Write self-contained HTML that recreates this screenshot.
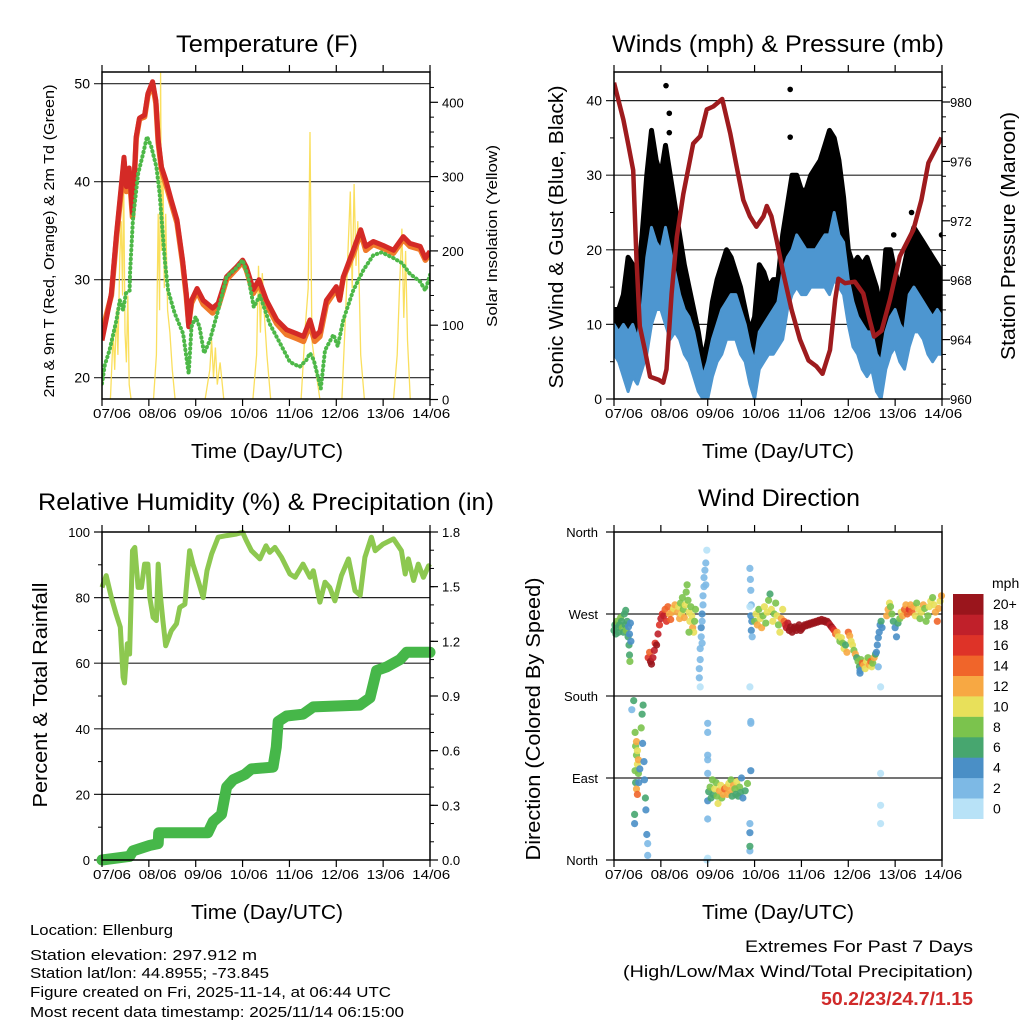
<!DOCTYPE html>
<html><head><meta charset="utf-8"><title>Station Meteogram</title>
<style>
html,body{margin:0;padding:0;background:#fff;}
svg{display:block;font-family:"Liberation Sans",Arial,sans-serif;}
</style></head>
<body>
<svg id="chart" width="1024" height="1024" viewBox="0 0 1024 1024" xmlns="http://www.w3.org/2000/svg"></svg>
<script>
// ---------- DATA ----------
const tempT   = [0,0.06,0.2,0.31,0.41,0.47,0.52,0.58,0.65,0.73,0.8,0.91,0.98,1.08,1.15,1.2,1.27,1.36,1.48,1.6,1.72,1.8,1.85,1.91,2.03,2.16,2.36,2.48,2.66,2.87,3.0,3.08,3.23,3.35,3.51,3.73,3.94,4.15,4.3,4.44,4.54,4.65,4.79,5.0,5.07,5.15,5.36,5.52,5.63,5.79,6.0,6.22,6.43,6.57,6.79,6.9,7.0];
const temp2m  = [23.8,25.2,28.6,34.7,39.5,42.5,39.5,41.4,36.8,44.6,46.5,46.8,49,50.2,48.3,44.3,41.5,40.2,38.1,36.1,32,28.6,25.2,27.9,29.1,27.9,27.1,27.6,30.3,31.3,32,31.3,29,30,27.9,25.9,24.9,24.5,24.2,25.9,24.2,24.7,27.9,29.3,27.9,30.3,33,35.1,33.4,33.9,33.5,33,34.4,33.7,33.4,32.2,32.9];
const temp9m  = [25.5,25.8,28.4,34.3,39.0,42.0,39.0,41.0,36.4,44.4,46.4,46.6,48.8,50.0,48.0,44.0,41.2,39.8,37.8,35.8,31.7,28.3,25.5,27.6,28.8,27.5,26.6,27.2,30.0,31.1,31.8,31.0,28.6,29.6,27.5,25.5,24.4,24.0,23.7,25.4,23.7,24.2,27.5,29.0,28.0,30.2,32.6,34.8,33.0,33.6,33.2,32.7,34.1,33.4,33.1,32.0,32.6];
const tdT     = [0,0.06,0.16,0.31,0.38,0.45,0.51,0.59,0.6,0.66,0.77,0.88,0.96,1.05,1.16,1.23,1.34,1.41,1.55,1.73,1.85,1.91,2.0,2.08,2.18,2.3,2.48,2.66,2.87,3.0,3.12,3.24,3.37,3.58,3.8,4.01,4.22,4.36,4.44,4.52,4.67,4.76,4.94,5.03,5.15,5.36,5.58,5.79,5.97,6.22,6.4,6.57,6.79,6.9,7.0];
const td2m    = [19.4,21.3,22.8,25.9,27.9,26.9,28.6,28.9,30.8,36.1,40.8,42.9,44.6,43.6,41.5,38.8,32,28.9,26.6,24.5,20.4,25.2,26.2,25.2,22.5,23.8,26.9,30.3,31.2,32,30.3,27.2,28.4,25.5,23.5,21.6,21.1,21.8,22.5,21.8,18.9,22.8,24.4,23.2,25.9,28.9,31,32.5,32.8,32.2,31.7,30.6,29.8,28.9,30.5];
const solT     = [0,0.18,0.24,0.27,0.31,0.34,0.38,0.41,0.44,0.46,0.49,0.52,0.55,0.58,0.62,1.1,1.16,1.2,1.23,1.25,1.27,1.3,1.33,1.36,1.4,1.45,1.5,1.56,2.2,2.3,2.34,2.38,2.42,2.46,2.52,2.6,3.22,3.3,3.34,3.38,3.42,3.46,3.52,3.6,4.25,4.34,4.4,4.44,4.48,4.54,4.65,5.12,5.2,5.25,5.3,5.34,5.38,5.42,5.46,5.52,5.6,6.22,6.3,6.35,6.4,6.44,6.48,6.52,6.58,7.0];
const solW     = [0,0,90,40,120,60,190,240,140,310,90,50,140,20,0,0,60,250,120,440,200,320,150,250,120,90,40,0,0,40,80,30,70,20,50,0,0,60,180,90,170,120,60,0,0,100,150,360,80,50,0,0,120,200,280,150,290,180,240,60,0,0,60,150,230,110,200,80,0,0];

const windT   = [0,0.1,0.2,0.3,0.4,0.5,0.6,0.7,0.8,0.9,1.0,1.1,1.2,1.3,1.4,1.5,1.6,1.7,1.8,1.9,2.0,2.1,2.2,2.3,2.4,2.5,2.6,2.7,2.8,2.9,3.0,3.1,3.2,3.3,3.4,3.5,3.6,3.7,3.8,3.9,4.0,4.1,4.2,4.3,4.4,4.5,4.6,4.7,4.8,4.9,5.0,5.1,5.2,5.3,5.4,5.5,5.6,5.7,5.8,5.9,6.0,6.1,6.2,6.3,6.4,6.5,6.6,6.7,6.8,6.9,7.0];
const windLo  = [6,5,3,1,3,2,4,6,10,12,12,10,8,9,8,6,5,3,1,0,0,3,5,6,8,8,8,6,5,2,0,4,5,6,6,7,8,12,14,15,14,14,15,15,15,15,14,16,15,14,10,7,6,4,3,4,1,0,4,6,7,5,4,7,9,9,8,6,5,6,6];
const windHi  = [10,9,10,9,10,8,12,19,23,21,20,23,20,17,14,12,11,9,6,3,5,8,10,12,13,14,14,12,10,7,5,9,10,11,12,13,17,19,20,22,21,20,20,20,21,22,22,25,22,21,16,13,11,10,9,9,6,5,9,11,12,10,9,14,15,14,13,12,11,12,11];
const gustHi  = [12,12,14,19,18,15,22,30,36,32,30,34,30,26,22,18,15,12,9,5,8,13,16,18,20,19,17,15,12,9,11,18,17,15,16,16,22,26,30,30,28,28,30,31,32,34,36,35,32,27,20,18,19,18,19,17,15,12,20,20,17,15,18,21,23,22,21,20,19,18,17];
const gustOutT = [1.11,1.18,1.18,3.76,3.76,6.35,6.99,5.97];
const gustOutV = [42,38.3,35.7,41.5,35.1,25,22,22];
const presT   = [0,0.2,0.3,0.41,0.48,0.55,0.66,0.77,0.95,1.05,1.12,1.23,1.34,1.48,1.69,1.84,1.98,2.12,2.31,2.48,2.62,2.76,2.9,3.04,3.19,3.26,3.36,3.47,3.61,3.79,3.97,4.15,4.32,4.45,4.61,4.72,4.79,4.93,5.14,5.32,5.46,5.55,5.71,5.89,6.1,6.39,6.56,6.71,6.99];
const presMb  = [981.3,978.8,977.2,975.4,969.4,964.9,963.3,961.5,961.3,961.1,962,967.1,970.9,973.8,977.2,977.7,979.5,979.7,980.2,977.9,975.6,973.4,972.3,971.6,972.3,973,972.3,970.7,968.5,966,964,962.6,962.2,961.7,963.3,966.7,968.1,967.8,967.9,967.1,965.3,964.2,964.6,966.7,969.6,971.4,973.4,975.9,977.6];

const rhT   = [0,0.09,0.2,0.3,0.39,0.45,0.48,0.54,0.59,0.65,0.7,0.77,0.84,0.91,0.98,1.02,1.09,1.16,1.2,1.25,1.3,1.36,1.48,1.59,1.66,1.77,1.87,1.94,2.03,2.16,2.24,2.34,2.48,2.66,2.87,3.0,3.08,3.19,3.37,3.5,3.58,3.69,3.83,4.01,4.12,4.29,4.44,4.51,4.65,4.76,4.86,4.97,5.11,5.26,5.4,5.51,5.61,5.75,5.83,6.0,6.22,6.39,6.47,6.54,6.65,6.75,6.86,6.97,7.0];
const rhPct = [83.1,86.7,80,75,71,55.7,54,65.9,62.8,94.3,95.3,83.1,83.1,90.2,90.2,80,74,73,90.2,80,73,65.3,69.9,72,77,78,94.3,90.2,86.2,80,88.2,93.3,98.4,98.9,99.4,99.9,97.4,94.3,91.8,95.8,93.8,95.3,92.3,87.2,86.2,90.2,86.2,88.2,78.6,84.7,83.1,79,86.7,91.8,82.1,80.7,92.3,98.4,94.3,96.3,97.9,94.3,87.2,91.8,85.2,90.2,86.2,89.7,89.2];
const prT   = [0,0.59,0.66,1.02,1.2,1.21,2.26,2.37,2.55,2.66,2.8,3.05,3.19,3.65,3.72,3.76,3.94,4.29,4.51,5.5,5.72,5.86,6.08,6.36,6.5,7.0];
const prIn  = [0,0.02,0.05,0.08,0.09,0.15,0.15,0.21,0.25,0.40,0.44,0.47,0.50,0.51,0.62,0.76,0.79,0.80,0.84,0.85,0.89,1.04,1.06,1.10,1.14,1.14];

const wdT = [0,0.02,0.04,0.06,0.08,0.1,0.12,0.14,0.16,0.18,0.2,0.22,0.24,0.25,0.26,0.28,0.3,0.31,0.32,0.33,0.34,0.33,0.35,0.36,
 0.38,0.42,0.45,0.46,0.48,0.48,0.5,0.5,0.52,0.52,0.45,0.46,0.48,0.5,0.53,0.55,0.58,0.6,0.62,0.61,0.64,0.65,0.67,0.68,0.7,0.72,0.44,0.44,0.72,
 0.73,0.76,0.78,0.8,0.83,0.86,0.88,0.91,0.94,0.97,1.0,1.03,1.06,1.09,1.12,1.15,1.18,1.21,1.24,1.27,1.3,
 1.36,1.38,1.4,1.42,1.44,1.46,1.48,1.5,1.52,1.54,1.56,1.58,1.6,1.62,1.64,1.66,1.68,1.7,1.72,1.74,1.6,
 1.82,1.82,1.84,1.84,1.86,1.86,1.88,1.88,1.9,1.9,1.92,1.92,1.94,1.96,1.98,1.96,1.88,1.84,
 2.0,2.02,2.05,2.07,2.1,2.12,2.15,2.18,2.2,2.22,2.25,2.28,2.3,2.33,2.36,2.4,2.42,2.45,2.48,2.5,2.52,2.55,2.58,2.6,2.62,2.65,2.68,2.7,2.72,2.75,2.8,2.85,
 2.0,2.0,2.0,2.0,2.0,2.0,2.0,1.98,
 2.9,2.91,2.92,2.93,2.92,2.94,2.93,2.95,2.9,2.9,2.92,2.92,2.92,2.9,2.9,2.9,2.9,
 3.0,3.03,3.06,3.09,3.12,3.15,3.18,3.21,3.24,3.27,3.3,3.33,3.36,3.39,3.42,3.45,3.48,3.51,3.54,3.57,3.6,3.63,3.66,
 3.68,3.71,3.74,3.77,3.8,3.83,3.86,3.89,3.92,3.95,3.98,4.01,4.04,4.07,4.1,4.13,4.16,4.19,4.22,4.25,4.28,4.31,4.34,4.37,4.4,4.43,4.46,4.49,4.52,4.55,4.58,4.61,4.64,4.67,4.7,4.73,4.76,4.79,4.82,4.85,4.88,4.91,4.94,4.97,
 5.0,5.03,5.06,5.09,5.12,5.15,5.18,5.21,5.24,5.25,5.25,5.27,5.3,5.33,5.36,5.39,5.42,5.45,5.48,5.5,5.52,5.55,5.58,
 5.6,5.62,5.64,5.66,5.68,5.7,5.72,5.64,5.69,5.69,5.69,5.69,
 5.82,5.85,5.88,5.9,5.93,5.96,6.0,6.03,6.06,6.1,6.13,6.16,6.2,6.23,6.26,6.3,6.33,6.36,6.4,6.43,6.46,6.5,6.53,6.56,6.6,6.63,6.66,6.7,6.73,6.76,6.8,6.83,6.86,6.9,6.93,6.96,6.99];
const wdDir = [252,258,248,262,255,250,258,266,262,255,250,270,258,274,252,262,245,256,236,225,218,248,260,240,
 165,175,140,125,130,115,120,105,110,95,98,85,78,72,85,100,145,160,170,128,108,88,68,55,28,18,50,40,5,
 222,228,218,215,222,230,238,236,248,258,265,270,268,275,262,278,270,264,272,276,280,
 272,278,265,282,270,288,275,266,280,294,302,285,272,262,278,268,255,250,262,275,250,
 200,210,220,232,245,255,262,270,280,290,300,310,318,326,340,302,238,190,
 65,75,80,68,88,72,78,85,70,62,76,82,68,72,78,80,72,84,76,88,70,82,78,72,86,70,80,74,90,68,76,84,
 150,140,115,110,95,45,2,0,
 320,308,296,280,268,262,252,245,278,190,152,150,98,40,30,10,15,
 262,270,258,275,265,255,268,278,260,272,285,292,275,262,270,282,268,258,250,265,275,262,258,
 255,260,252,256,250,254,256,252,255,258,252,254,256,258,257,259,258,260,259,261,260,262,261,263,262,264,262,263,261,262,260,258,256,254,252,248,250,245,240,244,238,232,236,228,
 250,246,240,236,230,226,222,218,212,208,205,220,216,214,210,218,222,214,218,212,216,222,226,
 228,236,244,250,258,262,255,212,190,95,60,40,
 268,275,282,278,270,262,255,245,260,265,272,268,275,280,270,275,280,272,278,268,282,275,265,272,280,276,262,268,278,284,288,280,272,262,276,284,290];
const wdSpd = [6,6,6,8,6,6,6,8,6,8,6,6,6,6,8,6,6,4,6,6,8,4,4,4,
 2,6,8,8,12,8,10,10,12,8,8,6,12,14,4,4,8,6,6,4,4,4,6,4,4,2,6,4,2,
 16,14,20,20,18,18,16,20,18,16,18,16,18,14,16,14,12,14,12,10,12,
 12,10,12,8,10,8,8,12,10,8,8,8,10,10,8,10,12,10,8,8,8,
 2,2,2,2,2,4,2,4,2,2,2,2,2,2,0,2,2,0,
 4,6,8,6,8,6,10,8,8,10,12,10,8,12,14,12,12,10,12,8,6,12,8,6,10,6,8,6,4,4,6,8,
 2,2,2,2,2,2,0,0,
 2,2,2,2,4,4,4,2,0,0,2,2,4,2,4,2,6,
 8,10,12,8,10,12,8,10,8,10,8,6,10,10,8,8,10,8,10,12,10,14,16,
 18,18,20,20,20,20,20,20,20,20, 20,20,20,20,20,20,20,20,20,20, 20,20,20,20,20,20,20,20,20,20, 20,18,20,18,16,14,12,10,8,10, 8,10,6,12,
 14,12,10,10,8,12,6,8,6,4,4,8,14,12,10,10,8,12,14,10,8,12,6,
 4,4,4,4,4,6,4,2,0,0,0,0,
 12,12,10,8,8,6,4,4,6,8,10,12,14,12,14,16,12,14,12,10,8,10,8,10,12,8,8,8,10,10,8,10,12,14,12,10,12];

const dayLabels = ["07/06","08/06","09/06","10/06","11/06","12/06","13/06","14/06"];
const tempTicks = [20,30,40,50];
const solTicks  = [0,100,200,300,400];
const windTicks = [0,10,20,30,40];
const presTicks = [960,964,968,972,976,980];
const rhTicks   = [0,20,40,60,80,100];
const prTicks   = [0.0,0.3,0.6,0.9,1.2,1.5,1.8];
const dirTicks  = [0,90,180,270,360];
const dirNames  = ["North","East","South","West","North"];
const spdBins   = ["0","2","4","6","8","10","12","14","16","18","20+"];
const spdColors = ["#b8e2f7","#7db9e5","#4a8fc6","#47a66f","#7bc34d","#e8e05a","#f7a843","#f0652a","#de3328","#c0202a","#9a151c"];

// ---------- DRAWING ----------
const NS = "http://www.w3.org/2000/svg";
const svg = document.getElementById("chart");
function mk(tag, parent){ const e = document.createElementNS(NS, tag); (parent||svg).appendChild(e); return e; }
function txt(parent, s, x, y, size, anchor, len, rot, color, weight){
  const t = mk("text", parent);
  t.setAttribute("x", x); t.setAttribute("y", y);
  t.setAttribute("font-size", size);
  t.setAttribute("text-anchor", anchor || "middle");
  t.setAttribute("fill", color || "#000");
  if (weight) t.setAttribute("font-weight", weight);
  if (len){ t.setAttribute("textLength", len); t.setAttribute("lengthAdjust", "spacingAndGlyphs"); }
  if (rot) t.setAttribute("transform", "rotate(" + rot + " " + x + " " + y + ")");
  t.textContent = s;
  return t;
}
function line(parent, x1, y1, x2, y2, w, c){
  const l = mk("line", parent);
  l.setAttribute("x1", x1); l.setAttribute("y1", y1); l.setAttribute("x2", x2); l.setAttribute("y2", y2);
  l.setAttribute("stroke", c || "#000"); l.setAttribute("stroke-width", w || 1);
  return l;
}
function pathFrom(xs, ys){ let d = ""; for (let i = 0; i < xs.length; i++) d += (i ? "L" : "M") + xs[i].toFixed(1) + "," + ys[i].toFixed(1); return d; }

function makeXAxis(g, L, R, T, B){
  const step = (R - L) / 7;
  for (let i = 0; i <= 7; i++){
    const x = L + i * step;
    line(g, x, B, x, B + 7, 1.2);
    line(g, x, T, x, T - 7, 1.2);
    const lab = txt(g, dayLabels[i], L + 10 + i * 45.6, B + 19, 13, "middle", 38);
    
    
  }
}
function frame(g, L, R, T, B){
  const r = mk("rect", g);
  r.setAttribute("x", L); r.setAttribute("y", T); r.setAttribute("width", R - L); r.setAttribute("height", B - T);
  r.setAttribute("fill", "none"); r.setAttribute("stroke", "#000"); r.setAttribute("stroke-width", 1.5);
  
  
}

// ===== Panel 1 =====
(function(){
  const L = 102, R = 430, T = 72, B = 399;
  const g = mk("g");  
  const xs = t => L + t * (R - L) / 7;
  const yT = v => 83.7 + (50 - v) * 9.8;
  const yS = w => 399.5 - w * 0.743;
  const clip = mk("clipPath", g); clip.setAttribute("id", "c1");
  const cr = mk("rect", clip); cr.setAttribute("x", L); cr.setAttribute("y", T); cr.setAttribute("width", R - L); cr.setAttribute("height", B - T);
  tempTicks.forEach(v => { const gl = line(g, L - 8, yT(v), R, yT(v), 1.2, "#222");  
    const lb = txt(g, String(v), L - 12, yT(v) + 5, 14, "end");   });
  solTicks.forEach(v => { line(g, R, yS(v), R + 8, yS(v), 1.2);
    const lb = txt(g, String(v), R + 12, yS(v) + 5, 13, "start");   });
  for (let v = 20; v < 440; v += 20) if (v % 100) line(g, R, yS(v), R + 4, yS(v), 1);
  const pg = mk("g", g); pg.setAttribute("clip-path", "url(#c1)");
  const sol = mk("path", pg); sol.setAttribute("d", pathFrom(solT.map(xs), solW.map(yS)));
  sol.setAttribute("fill", "none"); sol.setAttribute("stroke", "#f9dc4c"); sol.setAttribute("stroke-width", 1.3); sol.setAttribute("opacity", 0.9);
   
  const o = mk("path", pg); o.setAttribute("d", pathFrom(tempT.map(xs), temp9m.map(yT)));
  o.setAttribute("fill", "none"); o.setAttribute("stroke", "#f07a2a"); o.setAttribute("stroke-width", 5.5); o.setAttribute("stroke-linejoin", "round");
   
  const rl = mk("path", pg); rl.setAttribute("d", pathFrom(tempT.map(xs), temp2m.map(yT)));
  rl.setAttribute("fill", "none"); rl.setAttribute("stroke", "#d42a26"); rl.setAttribute("stroke-width", 5); rl.setAttribute("stroke-linejoin", "round");
   
  const gr = mk("path", pg); gr.setAttribute("d", pathFrom(tdT.map(xs), td2m.map(yT)));
  gr.setAttribute("fill", "none"); gr.setAttribute("stroke", "#4db848"); gr.setAttribute("stroke-width", 4); gr.setAttribute("stroke-linecap", "round"); gr.setAttribute("stroke-dasharray", "0.5 4");
   
  frame(g, L, R, T, B); makeXAxis(g, L, R, T, B);
  let t;
  t = txt(g, "Temperature (F)", 267, 52, 24, "middle", 182);  
  t = txt(g, "Time (Day/UTC)", 267, 458, 20, "middle", 152);  
  t = txt(g, "2m & 9m T (Red, Orange) & 2m Td (Green)", 54, 241, 15, "middle", 313, -90);  
  t = txt(g, "Solar Insolation (Yellow)", 497, 236, 15, "middle", 182, -90);  
})();

// ===== Panel 2 =====
(function(){
  const L = 614, R = 942, T = 72, B = 399;
  const g = mk("g");  
  const xs = t => L + t * (R - L) / 7;
  const yW = v => 399 - v * 7.46;
  const yP = p => 399 - (p - 960) * 14.85;
  const clip = mk("clipPath", g); clip.setAttribute("id", "c2");
  const cr = mk("rect", clip); cr.setAttribute("x", L); cr.setAttribute("y", T); cr.setAttribute("width", R - L); cr.setAttribute("height", B - T);
  windTicks.forEach(v => { if (v > 0){ const gl = line(g, L - 8, yW(v), R, yW(v), 1.2, "#222");   } else line(g, L - 8, yW(v), L, yW(v), 1.2);
    const lb = txt(g, String(v), L - 12, yW(v) + 5, 14, "end");   });
  for (let v = 5; v < 44; v += 10) line(g, L - 4, yW(v), L, yW(v), 1);
  presTicks.forEach(v => { line(g, R, yP(v), R + 8, yP(v), 1.2);
    const lb = txt(g, String(v), R + 8, yP(v) + 5, 13, "start");   });
  for (let v = 961; v < 982; v++) if ((v - 960) % 4) line(g, R, yP(v), R + 4, yP(v), 1);
  const pg = mk("g", g); pg.setAttribute("clip-path", "url(#c2)");
  const xsw = windT.map(xs);
  const gx = xsw.concat(xsw.slice().reverse());
  const gy = gustHi.map(yW).concat(windHi.map(v => yW(Math.max(0, v - 2))).reverse());
  const gust = mk("path", pg); gust.setAttribute("d", pathFrom(gx, gy) + "Z");
  gust.setAttribute("fill", "#000"); gust.setAttribute("stroke", "#000"); gust.setAttribute("stroke-width", 5); gust.setAttribute("stroke-linejoin", "round");
   
  gustOutT.forEach((t, i) => { const c = mk("circle", pg); c.setAttribute("cx", xs(t)); c.setAttribute("cy", yW(gustOutV[i])); c.setAttribute("r", 2.8); c.setAttribute("fill", "#000");
      });
  const wy = windHi.map(yW).concat(windLo.map(yW).reverse());
  const wind = mk("path", pg); wind.setAttribute("d", pathFrom(gx, wy) + "Z");
  wind.setAttribute("fill", "#4d96d0"); wind.setAttribute("stroke", "#4d96d0"); wind.setAttribute("stroke-width", 3); wind.setAttribute("stroke-linejoin", "round");
   
  const pr = mk("path", pg); pr.setAttribute("d", pathFrom(presT.map(xs), presMb.map(yP)));
  pr.setAttribute("fill", "none"); pr.setAttribute("stroke", "#9e1b1e"); pr.setAttribute("stroke-width", 4.5); pr.setAttribute("stroke-linejoin", "round");
   
  frame(g, L, R, T, B); makeXAxis(g, L, R, T, B);
  let t;
  t = txt(g, "Winds (mph) & Pressure (mb)", 778, 52, 24, "middle", 332);  
  t = txt(g, "Time (Day/UTC)", 778, 458, 20, "middle", 152);  
  t = txt(g, "Sonic Wind & Gust (Blue, Black)", 563, 237, 20, "middle", 303, -90);  
  t = txt(g, "Station Pressure (Maroon)", 1015, 236, 20, "middle", 248, -90);  
})();

// ===== Panel 3 =====
(function(){
  const L = 102, R = 430, T = 532, B = 860;
  const g = mk("g");  
  const xs = t => L + t * (R - L) / 7;
  const yR = v => 860 - v * 3.28;
  const yPr = p => 860 - p / 1.8 * 328;
  rhTicks.forEach(v => { if (v > 0 && v < 100){ const gl = line(g, L - 8, yR(v), R, yR(v), 1.2, "#222");   } else line(g, L - 8, yR(v), L, yR(v), 1.2);
    const lb = txt(g, String(v), L - 12, yR(v) + 5, 13, "end");   });
  for (let v = 10; v < 100; v += 20) line(g, L - 4, yR(v), L, yR(v), 1);
  prTicks.forEach(v => { line(g, R, yPr(v), R + 8, yPr(v), 1.2);
    const lb = txt(g, v.toFixed(1), R + 12, yPr(v) + 5, 13, "start");   });
  for (let v = 0.1; v < 1.8; v += 0.1) line(g, R, yPr(v), R + 4, yPr(v), 1);
  const rh = mk("path", g); rh.setAttribute("d", pathFrom(rhT.map(xs), rhPct.map(yR)));
  rh.setAttribute("fill", "none"); rh.setAttribute("stroke", "#8dc850"); rh.setAttribute("stroke-width", 5); rh.setAttribute("stroke-linejoin", "round");
   
  const pr = mk("path", g); pr.setAttribute("d", pathFrom(prT.map(xs), prIn.map(yPr)));
  pr.setAttribute("fill", "none"); pr.setAttribute("stroke", "#46b749"); pr.setAttribute("stroke-width", 11); pr.setAttribute("stroke-linejoin", "round"); pr.setAttribute("stroke-linecap", "round");
   
  frame(g, L, R, T, B); makeXAxis(g, L, R, T, B);
  let t;
  t = txt(g, "Relative Humidity (%) & Precipitation (in)", 266, 510, 24, "middle", 456);  
  t = txt(g, "Time (Day/UTC)", 267, 919, 20, "middle", 152);  
  t = txt(g, "Percent & Total Rainfall", 47, 695, 20, "middle", 225, -90);  
})();

// ===== Panel 4 =====
(function(){
  const L = 614, R = 942, T = 532, B = 860;
  const g = mk("g");  
  const xs = t => L + t * (R - L) / 7;
  const yD = d => 860 - d / 360 * 328;
  dirTicks.forEach((v, i) => { if (v > 0 && v < 360){ const gl = line(g, L - 8, yD(v), R, yD(v), 1.2, "#222");   } else line(g, L - 8, yD(v), L, yD(v), 1.2);
    const lb = txt(g, dirNames[i], L - 16, yD(v) + 5, 13, "end");   });
  const pg = mk("g", g);
  const n = Math.min(wdT.length, wdDir.length, wdSpd.length);
  for (let i = 0; i < n; i++){
    const bin = Math.min(10, Math.round(wdSpd[i] / 2));
    const c = mk("circle", pg);
    c.setAttribute("cx", xs(wdT[i]).toFixed(1)); c.setAttribute("cy", yD(wdDir[i]).toFixed(1)); c.setAttribute("r", 3.6);
    c.setAttribute("fill", spdColors[bin]); c.setAttribute("opacity", 0.9);
    
    
  }
  frame(g, L, R, T, B); makeXAxis(g, L, R, T, B);
  const cb = mk("g", g);  
  const h = (818.7 - 594) / 11;
  spdColors.forEach((col, i) => {
    const y = 818.7 - (i + 1) * h;
    const r = mk("rect", cb); r.setAttribute("x", 953); r.setAttribute("y", y.toFixed(1)); r.setAttribute("width", 30.5); r.setAttribute("height", (h + 0.3).toFixed(1)); r.setAttribute("fill", col);
     
    const lb = txt(cb, spdBins[i], 993, y + h / 2 + 5, 14, "start");  
  });
  let t;
  t = txt(cb, "mph", 992, 588, 14, "start");  
  t = txt(g, "Wind Direction", 779, 506, 24, "middle", 162);  
  t = txt(g, "Time (Day/UTC)", 778, 919, 20, "middle", 152);  
  t = txt(g, "Direction (Colored By Speed)", 540, 719, 20, "middle", 283, -90);  
})();

// ===== Footer =====
(function(){
  const g = mk("g");  
  const lines = [["Location: Ellenburg",935,143],["Station elevation: 297.912 m",960,227],["Station lat/lon: 44.8955; -73.845",978,239],["Figure created on Fri, 2025-11-14, at 06:44 UTC",997,361],["Most recent data timestamp: 2025/11/14 06:15:00",1017,374]];
  lines.forEach(l => { const t = txt(g, l[0], 30, l[1], 15, "start", l[2]);   });
  const e = mk("g");  
  let t;
  t = txt(e, "Extremes For Past 7 Days", 973, 952, 17, "end", 228);  
  t = txt(e, "(High/Low/Max Wind/Total Precipitation)", 973, 977, 17, "end", 350);  
  t = txt(e, "50.2/23/24.7/1.15", 973, 1005, 18, "end", 152, null, "#d02a2a", "bold");  
})();
</script>
</body></html>
